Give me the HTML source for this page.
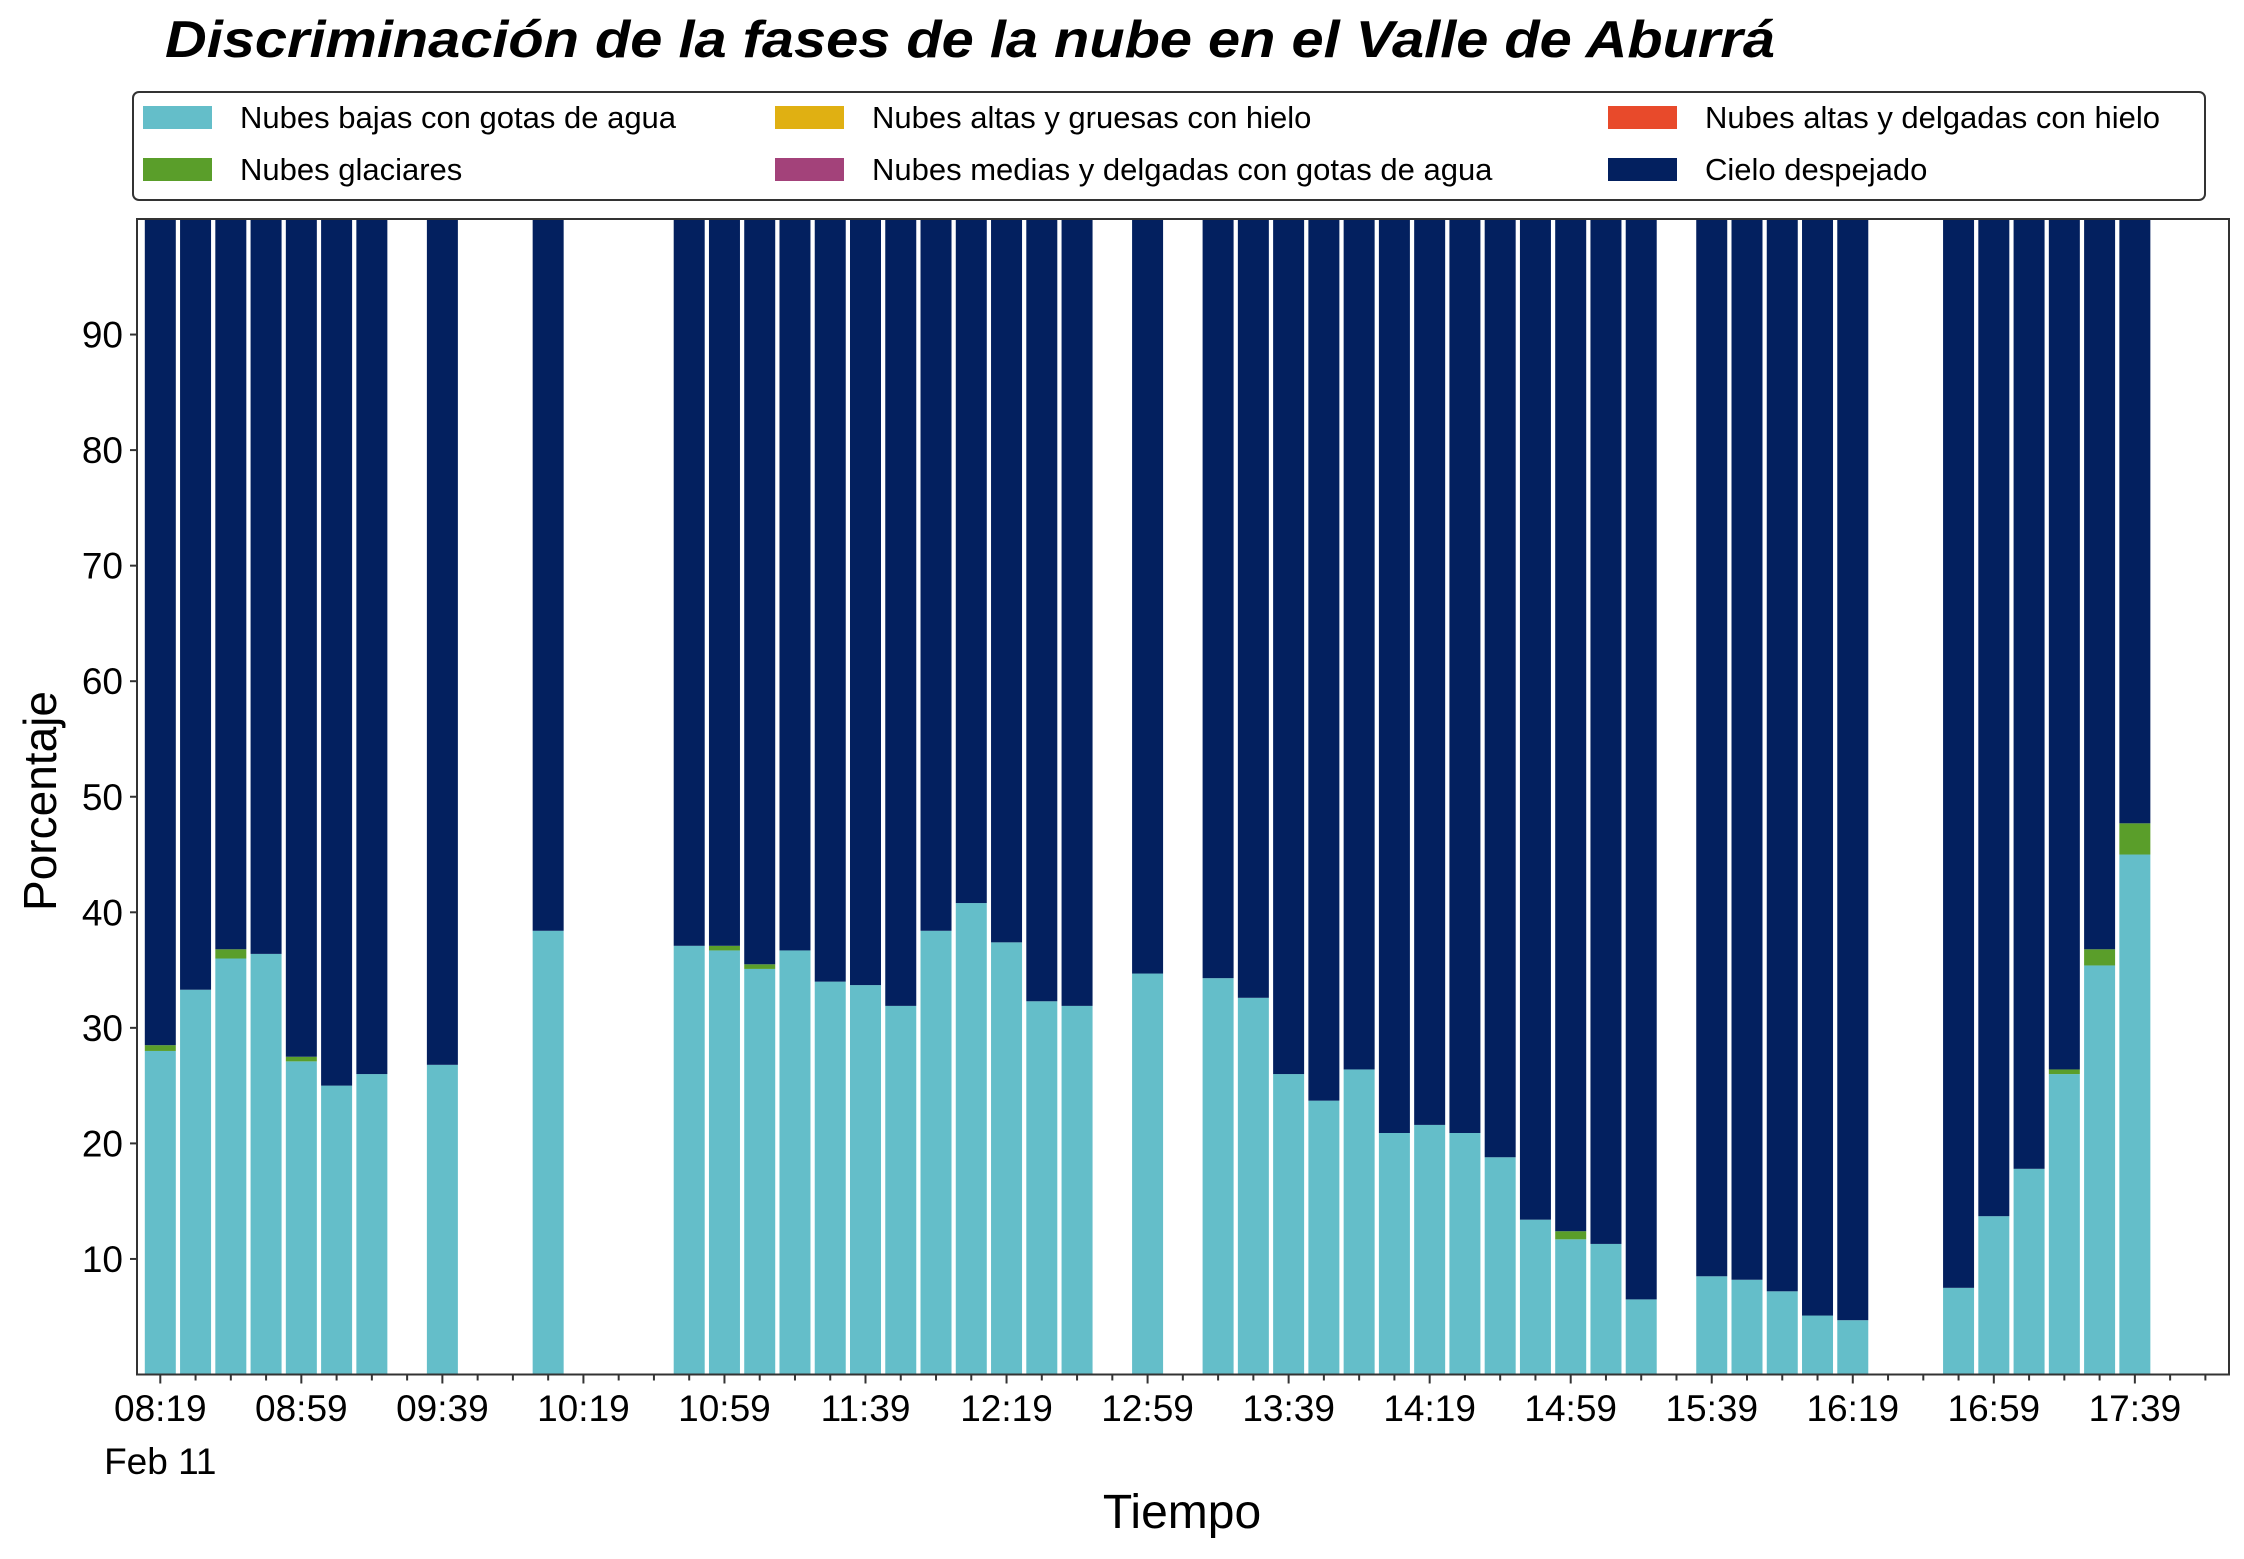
<!DOCTYPE html>
<html><head><meta charset="utf-8"><style>
html,body{margin:0;padding:0;background:#fff;}
svg{display:block;font-family:"Liberation Sans",sans-serif;}
</style></head><body>
<svg id="chart" width="2244" height="1559" viewBox="0 0 2244 1559" xmlns="http://www.w3.org/2000/svg">
<text x="165" y="57" font-size="52" font-weight="bold" font-style="italic" textLength="1610" lengthAdjust="spacingAndGlyphs">Discriminación de la fases de la nube en el Valle de Aburrá</text>
<g id="legend">
<rect x="133" y="92" width="2072" height="108" rx="6" fill="#fff" stroke="#333" stroke-width="2"/>
</g>
<g id="bars"></g>
<g id="axes"></g>
<text x="1182" y="1528" font-size="48" text-anchor="middle">Tiempo</text>
<text transform="translate(56,801) rotate(-90)" font-size="46" text-anchor="middle">Porcentaje</text>
</svg>
<script>
const slots = [0,1,2,3,4,5,6,8,11,15,16,17,18,19,20,21,22,23,24,25,26,28,30,31,32,33,34,35,36,37,38,39,40,41,42,44,45,46,47,48,51,52,53,54,55,56];
const lowWater = [28.0,33.3,36.0,36.4,27.1,25.0,26.0,26.8,38.4,37.1,36.7,35.1,36.7,34.0,33.7,31.9,38.4,40.8,37.4,32.3,31.9,34.7,34.3,32.6,26.0,23.7,26.4,20.9,21.6,20.9,18.8,13.4,11.7,11.3,6.5,8.5,8.2,7.2,5.1,4.7,7.5,13.7,17.8,26.0,35.4,45.0];
const glacial = [0.5,0,0.8,0,0.4,0,0,0,0,0,0.4,0.4,0,0,0,0,0,0,0,0,0,0,0,0,0,0,0,0,0,0,0,0,0.7,0,0,0,0,0,0,0,0,0,0,0.4,1.4,2.7];
const yTicks = [10,20,30,40,50,60,70,80,90];
const xTickLabels = ["08:19","08:59","09:39","10:19","10:59","11:39","12:19","12:59","13:39","14:19","14:59","15:39","16:19","16:59","17:39"];
const legendLabels = ["Nubes bajas con gotas de agua","Nubes glaciares","Nubes altas y gruesas con hielo","Nubes medias y delgadas con gotas de agua","Nubes altas y delgadas con hielo","Cielo despejado"];
const legendColors = ["#64bec9","#5a9e2a","#e0b012","#a3427a","#e84a2b","#03205f"];

const NS="http://www.w3.org/2000/svg";
const L=137,R=2229,T=219,B=1374.5;
const x0=160.3, step=35.26, bw=31;
const xs=i=>x0+i*step;
const ys=v=>B-v*(B-T)/100;
function mk(tag,attrs,parent){const e=document.createElementNS(NS,tag);for(const k in attrs)e.setAttribute(k,attrs[k]);parent.appendChild(e);return e;}
const bars=document.getElementById('bars'), axes=document.getElementById('axes'), legend=document.getElementById('legend');

slots.forEach((s,i)=>{
  const cx=xs(s), lw=lowWater[i], gl=glacial[i];
  let r=mk('rect',{x:cx-bw/2,y:ys(lw),width:bw,height:ys(0)-ys(lw),fill:legendColors[0]},bars);
  
  
  if(gl>0){
    r=mk('rect',{x:cx-bw/2,y:ys(lw+gl),width:bw,height:ys(lw)-ys(lw+gl),fill:legendColors[1]},bars);
    
    
  }
  r=mk('rect',{x:cx-bw/2,y:ys(100),width:bw,height:ys(lw+gl)-ys(100),fill:legendColors[5]},bars);
  
  
});

let f=mk('rect',{x:L,y:T,width:R-L,height:B-T,fill:'none',stroke:'#333','stroke-width':2},axes);



yTicks.forEach(v=>{
  let l=mk('line',{x1:L-7,x2:L,y1:ys(v),y2:ys(v),stroke:'#333','stroke-width':2},axes);
  
  
  let t=mk('text',{x:L-14,y:ys(v)+13,'font-size':37,'text-anchor':'end'},axes);
  t.textContent=v;
  
  
});
for(let i=0;i<=58;i++){
  const major=i%4===0;
  let l=mk('line',{x1:xs(i),x2:xs(i),y1:B,y2:B+(major?9:6),stroke:'#333','stroke-width':2},axes);
  
  
}
xTickLabels.forEach((lab,k)=>{
  let t=mk('text',{x:xs(k*4),y:1421,'font-size':37,'text-anchor':'middle'},axes);
  t.textContent=lab;
  
  
});
let fd=mk('text',{x:xs(0),y:1474,'font-size':37,'text-anchor':'middle'},axes);
fd.textContent='Feb 11';



const colX=[143,775,1608], rowY=[117,169];
const order=[[0,0],[0,1],[1,0],[1,1],[2,0],[2,1]];
legendLabels.forEach((lab,i)=>{
  const [c,r]=order[i];
  let p=mk('rect',{x:colX[c],y:rowY[r]-11,width:69,height:23,fill:legendColors[i]},legend);
  
  
  let t=mk('text',{x:colX[c]+97,y:rowY[r]+11,'font-size':31},legend);
  t.textContent=lab;
  
  
});
</script>
</body></html>
